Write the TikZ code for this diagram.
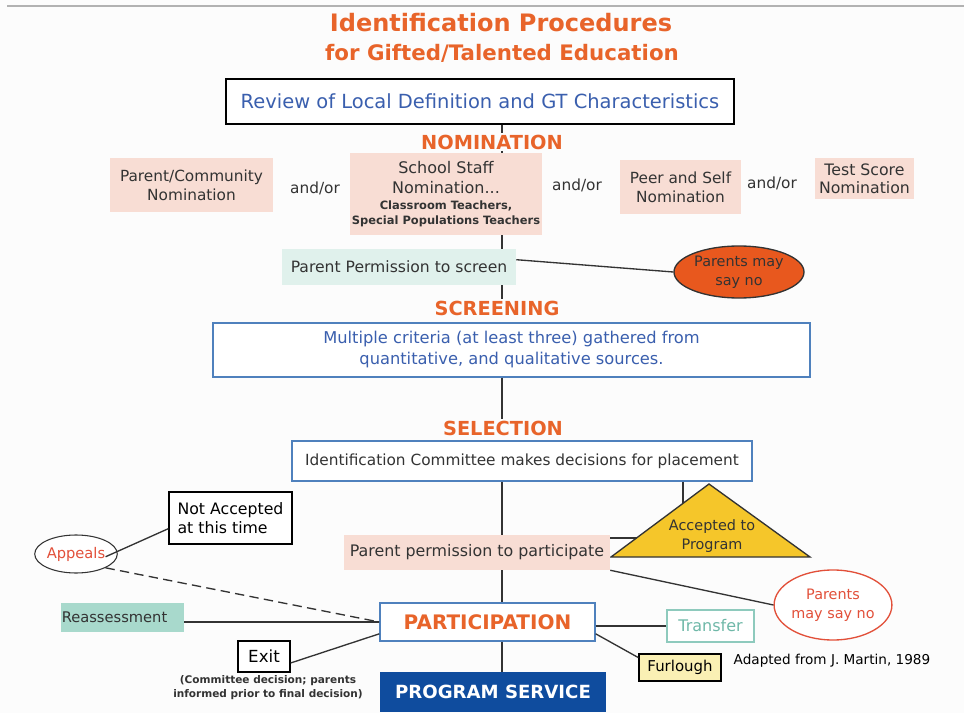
\documentclass[tikz,border=0pt]{standalone}
\usepackage{fontspec}
\setmainfont{DejaVu Sans}
\usetikzlibrary{shapes.geometric,calc}
\definecolor{ttl}{HTML}{E8642A}
\definecolor{bluetxt}{HTML}{3A5FAE}
\definecolor{pinkbox}{HTML}{F8DDD4}
\definecolor{cyanbox}{HTML}{E0F1EC}
\definecolor{tealbox}{HTML}{A8D9CC}
\definecolor{bluebord}{HTML}{4F81BD}
\definecolor{navy}{HTML}{0F4C9E}
\definecolor{tri}{HTML}{F5C62A}
\definecolor{redo}{HTML}{E8581E}
\definecolor{redtxt}{HTML}{E2503A}
\definecolor{tealtxt}{HTML}{6FB8A8}
\definecolor{tealbord}{HTML}{8ECABD}
\definecolor{furl}{HTML}{FAF0B4}
\definecolor{dark}{HTML}{333333}
\tikzset{
  x=0.75pt, y=-0.75pt,
  conn/.style={draw=dark, line width=1pt},
  sect/.style={text=ttl, font=\fontsize{14.5}{16}\selectfont\bfseries, inner sep=1pt},
  pinkb/.style={fill=pinkbox, align=center, font=\fontsize{11.5}{14}\selectfont, text=dark, inner sep=0pt},
  bluebx/.style={draw=bluebord, line width=1pt, fill=white, align=center, inner sep=0pt},
  blackbx/.style={draw=black, line width=1pt, fill=white, inner sep=0pt},
  andor/.style={font=\fontsize{11.5}{13}\selectfont, text=dark},
}
\begin{document}
\begin{tikzpicture}
\useasboundingbox (0,0) rectangle (964,713);
\fill[white!98!gray] (0,0) rectangle (964,713);
\draw[gray!60, line width=1.5pt] (7,6) -- (964,6);
% title
\node[text=ttl, font=\fontsize{18}{20}\selectfont\bfseries] (t1) at (501,23) {Identification Procedures};
\node[text=ttl, font=\fontsize{16}{18}\selectfont\bfseries] (t2) at (502,53) {for Gifted/Talented Education};
\coordinate (spine) at (502,0);
% review
\node[blackbx, minimum width=508*0.75pt, minimum height=45*0.75pt, text=bluetxt, font=\fontsize{14.6}{16}\selectfont] (review) at (480,101.5) {Review of Local Definition and GT Characteristics};
\node[sect] (nom) at (492,142) {NOMINATION};
\node[pinkb, minimum width=163*0.75pt, minimum height=54*0.75pt] (parcom) at (191.5,185) {Parent/Community\\Nomination};
\node[andor] (ao1) at (315,188) {and/or};
\node[pinkb, minimum width=192*0.75pt, minimum height=82*0.75pt, font=\fontsize{12}{15}\selectfont] (staff) at (446,194) {School Staff\\Nomination...\\[-3pt]{\fontsize{8.6}{10.5}\selectfont\bfseries Classroom Teachers,}\\[-4pt]{\fontsize{8.6}{10.5}\selectfont\bfseries Special Populations Teachers}};
\node[andor] (ao2) at (577,185) {and/or};
\node[pinkb, minimum width=121*0.75pt, minimum height=54*0.75pt] (peer) at (680.5,187) {Peer and Self\\Nomination};
\node[andor] (ao3) at (772,183) {and/or};
\node[pinkb, minimum width=99*0.75pt, minimum height=41*0.75pt, font=\fontsize{11.8}{13.5}\selectfont] (test) at (864.5,178.5) {Test Score\\Nomination};
\node[fill=cyanbox, minimum width=234*0.75pt, minimum height=36*0.75pt, inner sep=0pt, text=dark, font=\fontsize{11.7}{13}\selectfont] (perm1) at (399,267) {Parent Permission to screen};
\node[ellipse, draw=dark, line width=1pt, fill=redo, minimum width=130*0.75pt, minimum height=52*0.75pt, inner sep=0pt, align=center, text=dark, font=\fontsize{10.8}{14}\selectfont] (no1) at (739,272) {Parents may\\say no};
\node[sect] (scr) at (497,308) {SCREENING};
\node[bluebx, minimum width=597*0.75pt, minimum height=54*0.75pt, text=bluetxt, font=\fontsize{12.2}{15.75}\selectfont] (multi) at (511.5,350) {Multiple criteria (at least three) gathered from\\quantitative, and qualitative sources.};
\node[sect] (sel) at (503,428) {SELECTION};
\node[bluebx, minimum width=460*0.75pt, minimum height=40*0.75pt, text=dark, font=\fontsize{11.5}{13}\selectfont] (comm) at (522,461) {Identification Committee makes decisions for placement};
% triangle
\coordinate (tl) at (611,557);
\coordinate (tr) at (810,557);
\coordinate (ta) at (709,484);
\filldraw[fill=tri, draw=dark, line width=1pt] (tl) -- (ta) -- (tr) -- cycle;
\node[align=center, text=dark, font=\fontsize{10.8}{14}\selectfont] (acc) at (712,536) {Accepted to\\Program};
\coordinate (trihit) at (683,503.4);
\coordinate (trihit2) at (636.5,538);
\node[pinkb, minimum width=266*0.75pt, minimum height=35*0.75pt, font=\fontsize{11.9}{13}\selectfont] (perm2) at (477,552.5) {Parent permission to participate};
\node[ellipse, draw=redtxt, line width=1pt, fill=white, minimum width=108*0.75pt, minimum height=70*0.75pt, inner sep=0pt, align=center, text=redtxt, font=\fontsize{10.8}{14.5}\selectfont] (no2) at (833,605) {Parents\\may say no};
\node[bluebx, minimum width=215*0.75pt, minimum height=38*0.75pt, text=ttl, font=\fontsize{15}{17}\selectfont\bfseries] (part) at (487.5,622) {PARTICIPATION};
\node[draw=tealbord, line width=1pt, fill=white, minimum width=87*0.75pt, minimum height=32*0.75pt, inner sep=0pt, text=tealtxt, font=\fontsize{12}{13}\selectfont] (transfer) at (710.5,626) {Transfer};
\node[draw=black, line width=1pt, fill=furl, minimum width=82*0.75pt, minimum height=27*0.75pt, inner sep=0pt, text=black, font=\fontsize{11.2}{12}\selectfont] (furlough) at (680,667.5) {Furlough};
\node[text=black, font=\fontsize{10.2}{11}\selectfont] (adapt) at (832,661) {Adapted from J. Martin, 1989};
\node[fill=navy, minimum width=226*0.75pt, minimum height=40*0.75pt, inner sep=0pt, text=white, font=\fontsize{13.6}{15}\selectfont\bfseries] (serv) at (493,692) {PROGRAM SERVICE};
\node[blackbx, minimum width=123*0.75pt, minimum height=52*0.75pt, align=left, text=black, font=\fontsize{11.8}{14.5}\selectfont] (notacc) at (230.5,518) {Not Accepted\\at this time};
\node[ellipse, draw=dark, line width=0.8pt, fill=white, minimum width=80*0.75pt, minimum height=38*0.75pt, inner sep=0pt, text=redtxt, font=\fontsize{11}{12}\selectfont] (appeals) at (76,554) {Appeals};
\node[fill=tealbox, minimum width=123*0.75pt, minimum height=29*0.75pt, inner sep=0pt, text=dark, font=\fontsize{11}{12}\selectfont] (reass) at (122.5,617.5) {Reassessment\hspace*{12pt}};
\node[blackbx, minimum width=52*0.75pt, minimum height=31*0.75pt, text=black, font=\fontsize{12.5}{13}\selectfont] (exit) at (264,656.5) {Exit};
\node[align=center, text=dark, font=\fontsize{7.9}{10.5}\selectfont\bfseries] (cap) at (268,688) {(Committee decision; parents\\informed prior to final decision)};
% connectors
\draw[conn] (review.south -| spine) -- (nom.north -| spine);
\draw[conn] (nom.south -| spine) -- (staff.north -| spine);
\draw[conn] (staff.south -| spine) -- (perm1.north -| spine);
\draw[conn] (perm1.south -| spine) -- (scr.north -| spine);
\draw[conn] (multi.south -| spine) -- (sel.north -| spine);
\draw[conn] (comm.south -| spine) -- (perm2.north -| spine);
\draw[conn] (perm2.south -| spine) -- (part.north -| spine);
\draw[conn] (part.south -| spine) -- (serv.north -| spine);
\draw[conn] ($(perm1.north east)!0.3!(perm1.south east)$) -- (no1.west);
\draw[conn] (comm.south -| trihit) -- (trihit);
\draw[conn] (perm2.north east |- trihit2) -- (trihit2);
\draw[conn] (perm2.south east) -- (no2.west);
\draw[conn] (part.east |- transfer.west) -- (transfer.west);
\draw[conn] ($(part.north east)!0.8!(part.south east)$) -- ($(furlough.north west)!0.15!(furlough.south west)$);
\draw[conn] ($(appeals.north east)!0.6!(appeals.south east)$) -- ($(notacc.north west)!0.7!(notacc.south west)$);
\draw[conn, dashed, dash pattern=on 7pt off 4pt] (appeals.south east) -- (part.west);
\draw[conn] (reass.east |- part.west) -- (part.west);
\draw[conn] ($(exit.north east)!0.7!(exit.south east)$) -- ($(part.north west)!0.8!(part.south west)$);
\end{tikzpicture}
\end{document}
